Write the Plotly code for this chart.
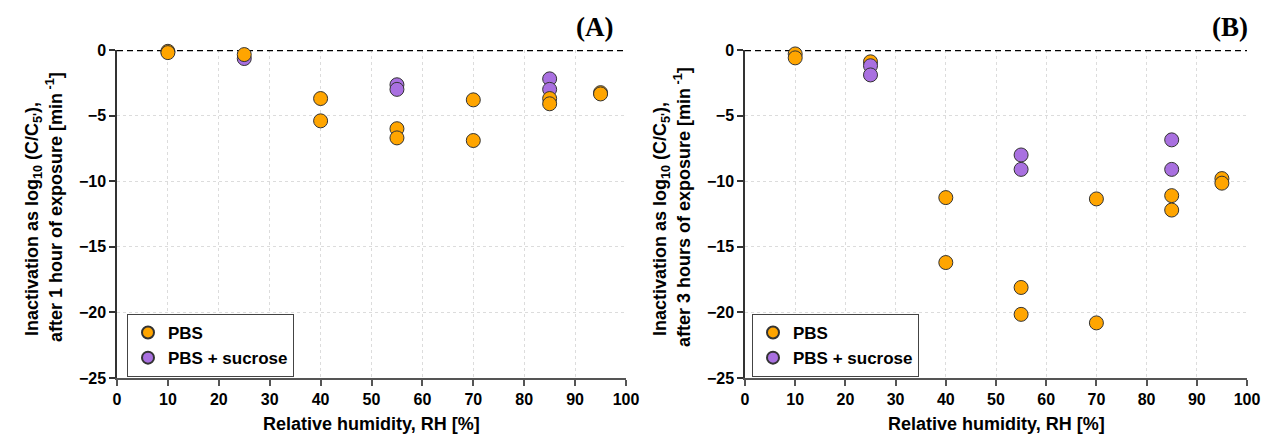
import plotly.graph_objects as go

# ---- data ----
rh_1h_pbs = [10, 10, 25, 40, 40, 55, 55, 70, 70, 85, 85, 95, 95]
inact_1h_pbs = [-0.1, -0.2, -0.35, -3.7, -5.4, -6.0, -6.7, -3.8, -6.9, -3.7, -4.1, -3.25, -3.35]
rh_1h_suc = [25, 55, 55, 85, 85]
inact_1h_suc = [-0.65, -2.65, -3.0, -2.2, -3.0]

rh_3h_pbs = [10, 10, 25, 40, 40, 55, 55, 70, 70, 85, 85, 95, 95]
inact_3h_pbs = [-0.3, -0.6, -0.9, -11.25, -16.2, -18.1, -20.15, -11.35, -20.8, -11.1, -12.2, -9.8, -10.15]
rh_3h_suc = [25, 25, 55, 55, 85, 85]
inact_3h_suc = [-1.2, -1.9, -8.0, -9.1, -6.85, -9.1]

x_ticks = [0, 10, 20, 30, 40, 50, 60, 70, 80, 90, 100]
y_ticks = [-25, -20, -15, -10, -5, 0]

series_names = ["PBS", "PBS + sucrose"]
ORANGE = "#FFA500"
PURPLE = "#A970E0"

W, H = 1272, 437
FONT = "Liberation Sans"

def px(x):
    return x / W

def py(y):
    return 1 - y / H

fig = go.Figure()

marker_line = dict(color="#333333", width=1)

def add(x, y, name, color, xa, ya, legend, rank):
    fig.add_trace(go.Scatter(
        x=x, y=y, mode="markers", name=name,
        marker=dict(size=14, color=color, line=marker_line),
        xaxis=xa, yaxis=ya, legend=legend, legendrank=rank,
        cliponaxis=False,
    ))

# Panel A: sucrose drawn first, PBS on top
add(rh_1h_suc, inact_1h_suc, series_names[1], PURPLE, "x", "y", "legend", 2)
add(rh_1h_pbs, inact_1h_pbs, series_names[0], ORANGE, "x", "y", "legend", 1)
# Panel B: PBS first, sucrose on top
add(rh_3h_pbs, inact_3h_pbs, series_names[0], ORANGE, "x2", "y2", "legend2", 1)
add(rh_3h_suc, inact_3h_suc, series_names[1], PURPLE, "x2", "y2", "legend2", 2)

tickfont = dict(family=FONT, size=16, color="black", weight="bold")

def xaxis(domain, anchor):
    return dict(
        domain=domain, anchor=anchor, range=[0, 100], tickvals=x_ticks,
        showline=True, linecolor="#555555", linewidth=1.5,
        ticks="outside", ticklen=6, tickcolor="#555555", tickwidth=1.5,
        showgrid=True, gridcolor="#dcdcdc", griddash="dot", gridwidth=1,
        zeroline=False, tickfont=tickfont, automargin=False, fixedrange=True,
    )

def yaxis(anchor):
    return dict(
        domain=[py(378), py(50)], anchor=anchor, range=[-25, 0], tickvals=y_ticks,
        showline=True, linecolor="#333333", linewidth=1.5,
        ticks="outside", ticklen=6, tickcolor="#333333", tickwidth=1.5,
        showgrid=True, gridcolor="#dcdcdc", griddash="dot", gridwidth=1,
        zeroline=False, tickfont=tickfont, automargin=False, fixedrange=True,
    )

legend_common = dict(
    font=dict(family=FONT, size=17, color="black", weight="bold"),
    bgcolor="white", bordercolor="#444444", borderwidth=1,
    xanchor="left", yanchor="top", itemsizing="constant",
    tracegroupgap=0,
)

fig.update_layout(
    width=W, height=H,
    margin=dict(l=0, r=0, t=0, b=0),
    paper_bgcolor="white", plot_bgcolor="white",
    xaxis=xaxis([px(117), px(626)], "y"),
    yaxis=yaxis("x"),
    xaxis2=xaxis([px(745), px(1247)], "y2"),
    yaxis2=yaxis("x2"),
    legend=dict(x=px(127), y=py(314), **legend_common),
    legend2=dict(x=px(752), y=py(314), **legend_common),
    showlegend=True,
)

# zero reference lines
for xr, yr in [("x", "y"), ("x2", "y2")]:
    fig.add_shape(type="line", xref=xr, yref=yr, x0=0, x1=100, y0=0, y1=0,
                  line=dict(color="black", width=2.5, dash="6px,4px"), layer="between")

xtitle_font = dict(family=FONT, size=18, color="black")
ytitle_font = dict(family=FONT, size=18, color="black")

ann = []

def text_ann(text, x, y, font, angle=0, xanchor="center"):
    ann.append(dict(text=text, x=px(x), y=py(y), xref="paper", yref="paper",
                    showarrow=False, font=font, textangle=angle,
                    xanchor=xanchor, yanchor="middle"))

# x-axis titles
text_ann("<b>Relative humidity, RH [%]</b>", 371.5, 424, xtitle_font)
text_ann("<b>Relative humidity, RH [%]</b>", 996, 424, xtitle_font)
# y-axis titles (two lines each)
line1 = "<b>Inactivation as log<sub>10</sub> (C/C<sub>5'</sub>),</b>"
text_ann(line1, 33, 219, ytitle_font, -90)
text_ann("<b>after 1 hour of exposure [min<sup> -1</sup>]</b>", 55, 207, ytitle_font, -90)
text_ann(line1, 661, 219, ytitle_font, -90)
text_ann("<b>after 3 hours of exposure [min<sup> -1</sup>]</b>", 683, 207, ytitle_font, -90)
# panel labels
panel_font = dict(family="Liberation Serif", size=27, color="black")
text_ann("<b>(A)</b>", 615, 27, panel_font, xanchor="right")
text_ann("<b>(B)</b>", 1250, 27, panel_font, xanchor="right")

fig.update_layout(annotations=ann)

fig.write_html("out.html", config={"displayModeBar": False})

# remove the default page margin so the figure fills the window exactly
with open("out.html", "r", encoding="utf-8") as f:
    html = f.read()
html = html.replace("<head>", "<head><style>html,body{margin:0;padding:0;overflow:hidden;}</style>", 1)
with open("out.html", "w", encoding="utf-8") as f:
    f.write(html)
